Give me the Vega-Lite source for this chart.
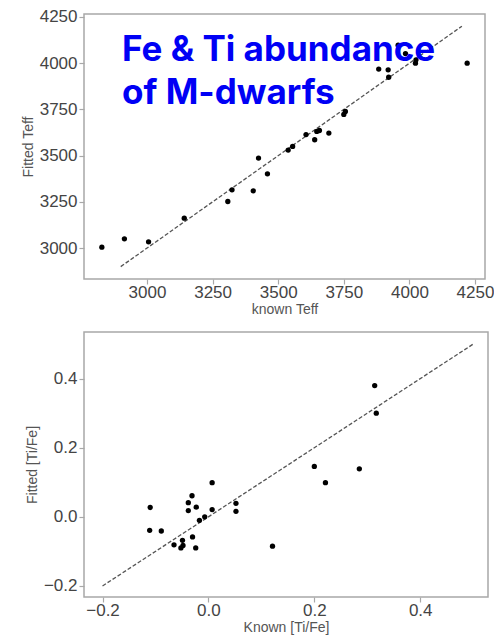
{
  "$schema": "https://vega.github.io/schema/vega-lite/v6.json",
  "background": "white",
  "padding": {"left": 20, "top": 7, "right": 5, "bottom": 5},
  "spacing": 14,
  "datasets": {
    "teff": [
      {"known": 2828, "fitted": 3005},
      {"known": 2914, "fitted": 3050},
      {"known": 3006, "fitted": 3034},
      {"known": 3142, "fitted": 3162},
      {"known": 3308, "fitted": 3252},
      {"known": 3324, "fitted": 3315},
      {"known": 3405, "fitted": 3310},
      {"known": 3425, "fitted": 3487},
      {"known": 3459, "fitted": 3402},
      {"known": 3538, "fitted": 3530},
      {"known": 3555, "fitted": 3550},
      {"known": 3606, "fitted": 3614},
      {"known": 3639, "fitted": 3586},
      {"known": 3647, "fitted": 3631},
      {"known": 3657, "fitted": 3636},
      {"known": 3693, "fitted": 3622},
      {"known": 3750, "fitted": 3723},
      {"known": 3756, "fitted": 3739},
      {"known": 3883, "fitted": 3968},
      {"known": 3919, "fitted": 3964},
      {"known": 3921, "fitted": 3924},
      {"known": 3957, "fitted": 4097},
      {"known": 3985, "fitted": 4052},
      {"known": 4023, "fitted": 4000},
      {"known": 4025, "fitted": 4018},
      {"known": 4220, "fitted": 4000}
    ],
    "teffLine": [
      {"known": 2900, "fitted": 2900},
      {"known": 4200, "fitted": 4200}
    ],
    "tife": [
      {"known": 0.314, "fitted": 0.380},
      {"known": 0.317, "fitted": 0.300},
      {"known": 0.200, "fitted": 0.146},
      {"known": 0.221, "fitted": 0.099},
      {"known": 0.285, "fitted": 0.139},
      {"known": 0.121, "fitted": -0.085},
      {"known": 0.007, "fitted": 0.099},
      {"known": 0.007, "fitted": 0.021},
      {"known": 0.052, "fitted": 0.039},
      {"known": 0.052, "fitted": 0.016},
      {"known": -0.007, "fitted": 0.0},
      {"known": -0.017, "fitted": -0.010},
      {"known": -0.023, "fitted": 0.028},
      {"known": -0.031, "fitted": 0.061},
      {"known": -0.038, "fitted": 0.041},
      {"known": -0.038, "fitted": 0.018},
      {"known": -0.110, "fitted": 0.027},
      {"known": -0.111, "fitted": -0.039},
      {"known": -0.089, "fitted": -0.041},
      {"known": -0.065, "fitted": -0.081},
      {"known": -0.049, "fitted": -0.068},
      {"known": -0.048, "fitted": -0.083},
      {"known": -0.052, "fitted": -0.090},
      {"known": -0.030, "fitted": -0.058},
      {"known": -0.024, "fitted": -0.090}
    ],
    "tifeLine": [
      {"known": -0.2, "fitted": -0.2},
      {"known": 0.5, "fitted": 0.5}
    ]
  },
  "config": {
    "view": {"stroke": "#a8a8a8", "strokeWidth": 1.5},
    "axis": {
      "grid": false,
      "domain": false,
      "tickColor": "#a8a8a8",
      "tickSize": 5,
      "tickWidth": 1.2,
      "labelFont": "Liberation Sans",
      "labelFontSize": 17,
      "labelColor": "#444444",
      "labelPadding": 2,
      "titleFont": "Liberation Sans",
      "titleFontSize": 14,
      "titleFontWeight": "normal",
      "titleColor": "#555555",
      "titlePadding": 4
    },
    "axisX": {"titlePadding": 2, "labelPadding": 0}
  },
  "vconcat": [
    {
      "width": 401,
      "height": 265,
      "title": {
        "text": ["Fe & Ti abundance", "of M-dwarfs"],
        "orient": "top",
        "anchor": "start",
        "frame": "group",
        "baseline": "top",
        "offset": -103,
        "dx": 38,
        "font": "Inter",
        "fontSize": 35,
        "fontWeight": "bold",
        "color": "#0000f5",
        "lineHeight": 43
      },
      "layer": [
        {
          "data": {"name": "teffLine"},
          "mark": {"type": "line", "color": "#555555", "strokeWidth": 1.3, "strokeDash": [4, 2]},
          "encoding": {
            "x": {"field": "known", "type": "quantitative"},
            "y": {"field": "fitted", "type": "quantitative"}
          }
        },
        {
          "data": {"name": "teff"},
          "mark": {"type": "circle", "color": "black", "opacity": 1, "size": 28},
          "encoding": {
            "x": {"field": "known", "type": "quantitative", "title": "known Teff",
              "scale": {"domain": [2760, 4288], "nice": false, "zero": false},
              "axis": {"values": [3000, 3250, 3500, 3750, 4000, 4250], "format": "d"}},
            "y": {"field": "fitted", "type": "quantitative", "title": "Fitted Teff",
              "scale": {"domain": [2833, 4266], "nice": false, "zero": false},
              "axis": {"values": [3000, 3250, 3500, 3750, 4000, 4250], "format": "d"}}
          }
        }
      ]
    },
    {
      "width": 404,
      "height": 265,
      "layer": [
        {
          "data": {"name": "tifeLine"},
          "mark": {"type": "line", "color": "#555555", "strokeWidth": 1.3, "strokeDash": [4, 2]},
          "encoding": {
            "x": {"field": "known", "type": "quantitative"},
            "y": {"field": "fitted", "type": "quantitative"}
          }
        },
        {
          "data": {"name": "tife"},
          "mark": {"type": "circle", "color": "black", "opacity": 1, "size": 28},
          "encoding": {
            "x": {"field": "known", "type": "quantitative", "title": "Known [Ti/Fe]",
              "scale": {"domain": [-0.235, 0.528], "nice": false, "zero": false},
              "axis": {"values": [-0.2, 0, 0.2, 0.4], "format": ".1f"}},
            "y": {"field": "fitted", "type": "quantitative", "title": "Fitted [Ti/Fe]",
              "scale": {"domain": [-0.232, 0.535], "nice": false, "zero": false},
              "axis": {"values": [-0.2, 0, 0.2, 0.4], "format": ".1f"}}
          }
        }
      ]
    }
  ]
}
